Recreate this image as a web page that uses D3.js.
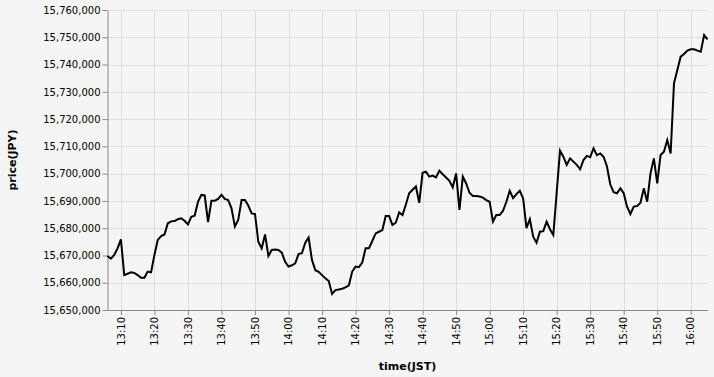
<!DOCTYPE html>
<html>
<head>
<meta charset="utf-8">
<script src="https://cdn.jsdelivr.net/npm/d3@7/dist/d3.min.js"></script>
<style>
  html, body { margin: 0; padding: 0; background: #f5f5f5; }
  svg { display: block; }
  text { font-family: "DejaVu Sans", sans-serif; }
</style>
</head>
<body>
<svg id="chart" width="714" height="377"></svg>
<script>
// ---- data ----
const times = [
"13:06","13:07","13:08","13:09","13:10","13:11","13:12","13:13","13:14","13:15",
"13:16","13:17","13:18","13:19","13:20","13:21","13:22","13:23","13:24","13:25",
"13:26","13:27","13:28","13:29","13:30","13:31","13:32","13:33","13:34","13:35",
"13:36","13:37","13:38","13:39","13:40","13:41","13:42","13:43","13:44","13:45",
"13:46","13:47","13:48","13:49","13:50","13:51","13:52","13:53","13:54","13:55",
"13:56","13:57","13:58","13:59","14:00","14:01","14:02","14:03","14:04","14:05",
"14:06","14:07","14:08","14:09","14:10","14:11","14:12","14:13","14:14","14:15",
"14:16","14:17","14:18","14:19","14:20","14:21","14:22","14:23","14:24","14:25",
"14:26","14:27","14:28","14:29","14:30","14:31","14:32","14:33","14:34","14:35",
"14:36","14:37","14:38","14:39","14:40","14:41","14:42","14:43","14:44","14:45",
"14:46","14:47","14:48","14:49","14:50","14:51","14:52","14:53","14:54","14:55",
"14:56","14:57","14:58","14:59","15:00","15:01","15:02","15:03","15:04","15:05",
"15:06","15:07","15:08","15:09","15:10","15:11","15:12","15:13","15:14","15:15",
"15:16","15:17","15:18","15:19","15:20","15:21","15:22","15:23","15:24","15:25",
"15:26","15:27","15:28","15:29","15:30","15:31","15:32","15:33","15:34","15:35",
"15:36","15:37","15:38","15:39","15:40","15:41","15:42","15:43","15:44","15:45",
"15:46","15:47","15:48","15:49","15:50","15:51","15:52","15:53","15:54","15:55",
"15:56","15:57","15:58","15:59","16:00","16:01","16:02","16:03","16:04","16:05"
];
const prices = [
15669800,15668800,15670200,15672600,15675900,15662800,15663300,15663800,15663600,15662800,
15661800,15661800,15664100,15663800,15670200,15675700,15677100,15677700,15681800,15682500,
15682600,15683300,15683600,15682700,15681400,15684200,15684600,15689700,15692200,15692000,
15682200,15690100,15690100,15690700,15692200,15690700,15690300,15687300,15680600,15683000,
15690300,15690300,15688300,15685400,15685200,15675000,15672600,15677700,15669800,15672000,
15672200,15672000,15671000,15667700,15665900,15666400,15667100,15670500,15670800,15674700,
15676600,15668300,15664600,15664000,15662800,15661600,15660600,15655900,15657300,15657500,
15657800,15658300,15659000,15664100,15665900,15665700,15667400,15672600,15672600,15675300,
15678100,15678700,15679300,15684500,15684500,15681200,15682000,15685800,15684800,15688600,
15692800,15694100,15695300,15689300,15700300,15700700,15698900,15699300,15698600,15701100,
15699800,15698600,15697400,15695000,15700100,15686700,15698900,15696400,15693000,15691800,
15691800,15691600,15691200,15690300,15689700,15682400,15684800,15684800,15686400,15689700,
15693700,15691000,15692500,15693700,15690900,15680000,15683300,15676900,15674700,15678700,
15678900,15682400,15679600,15677500,15693000,15708400,15706200,15703200,15705600,15704400,
15703200,15701600,15705000,15706500,15706000,15709300,15706800,15707400,15706200,15702600,
15696000,15693200,15692800,15694600,15692800,15687900,15685200,15687900,15688100,15689300,
15694600,15689700,15700100,15705600,15696400,15706800,15708000,15712300,15707400,15733100,
15738000,15742900,15743900,15745100,15745600,15745600,15745100,15744700,15750800,15749200
];
const yDomain = [15650000, 15760000];
const yTickStep = 10000;
const xTickMinutes = 10;
const xTitle = "time(JST)";
const yTitle = "price(JPY)";

// ---- layout ----
const W = 714, H = 377;
const margin = { left: 107.5, top: 10, right: 6.5, bottom: 67 };
const parse = d3.timeParse("%Y-%m-%d %H:%M");
const data = times.map((t, i) => ({ t: parse("2024-01-01 " + t), v: prices[i] }));

const svg = d3.select("#chart");
svg.append("rect").attr("width", W).attr("height", H).attr("fill", "#f5f5f5");

const x = d3.scaleTime()
  .domain(d3.extent(data, d => d.t))
  .range([margin.left, W - margin.right]);
const y = d3.scaleLinear()
  .domain(yDomain)
  .range([H - margin.bottom, margin.top]);

const yTicks = d3.range(yDomain[0], yDomain[1] + 1, yTickStep);
const xTicks = x.ticks(d3.timeMinute.every(xTickMinutes));

// grid
const grid = svg.append("g");
grid.selectAll(".gx").data(xTicks).join("line")
  .attr("x1", d => Math.round(x(d)) + 0.5).attr("x2", d => Math.round(x(d)) + 0.5)
  .attr("y1", margin.top).attr("y2", H - margin.bottom)
  .attr("stroke", "#dddddd").attr("stroke-width", 1);
grid.selectAll(".gy").data(yTicks).join("line")
  .attr("x1", margin.left).attr("x2", W - margin.right)
  .attr("y1", d => Math.round(y(d)) + 0.5).attr("y2", d => Math.round(y(d)) + 0.5)
  .attr("stroke", "#dddddd").attr("stroke-width", 1);

// axes
const xAxis = svg.append("g")
  .attr("transform", `translate(0,${H - margin.bottom})`)
  .call(d3.axisBottom(x).tickValues(xTicks).tickFormat(d3.timeFormat("%H:%M")).tickSize(5).tickSizeOuter(0));
xAxis.select(".domain").attr("stroke", "#888");
xAxis.selectAll(".tick line").attr("stroke", "#888");
xAxis.selectAll(".tick text")
  .attr("font-size", 10).attr("fill", "#000")
  .attr("transform", "rotate(-90)")
  .attr("text-anchor", "end")
  .attr("x", -7).attr("y", 0).attr("dy", "0.32em");

const yAxis = svg.append("g")
  .attr("transform", `translate(${margin.left},0)`)
  .call(d3.axisLeft(y).tickValues(yTicks).tickFormat(d3.format(",")).tickSize(5).tickSizeOuter(0));
yAxis.select(".domain").attr("stroke", "#888");
yAxis.selectAll(".tick line").attr("stroke", "#888");
yAxis.selectAll(".tick text").attr("font-size", 10).attr("fill", "#000").attr("x", -7);

// line
svg.append("path")
  .datum(data)
  .attr("fill", "none")
  .attr("stroke", "#000")
  .attr("stroke-width", 2)
  .attr("stroke-linejoin", "miter")
  .attr("d", d3.line().x(d => x(d.t)).y(d => y(d.v)));

// titles
svg.append("text")
  .attr("x", (margin.left + W - margin.right) / 2)
  .attr("y", 370)
  .attr("text-anchor", "middle")
  .attr("font-size", 11).attr("font-weight", "bold").attr("fill", "#000")
  .text(xTitle);
svg.append("text")
  .attr("transform", `translate(16,${(margin.top + H - margin.bottom) / 2}) rotate(-90)`)
  .attr("text-anchor", "middle")
  .attr("font-size", 11).attr("font-weight", "bold").attr("fill", "#000")
  .text(yTitle);
</script>
</body>
</html>
